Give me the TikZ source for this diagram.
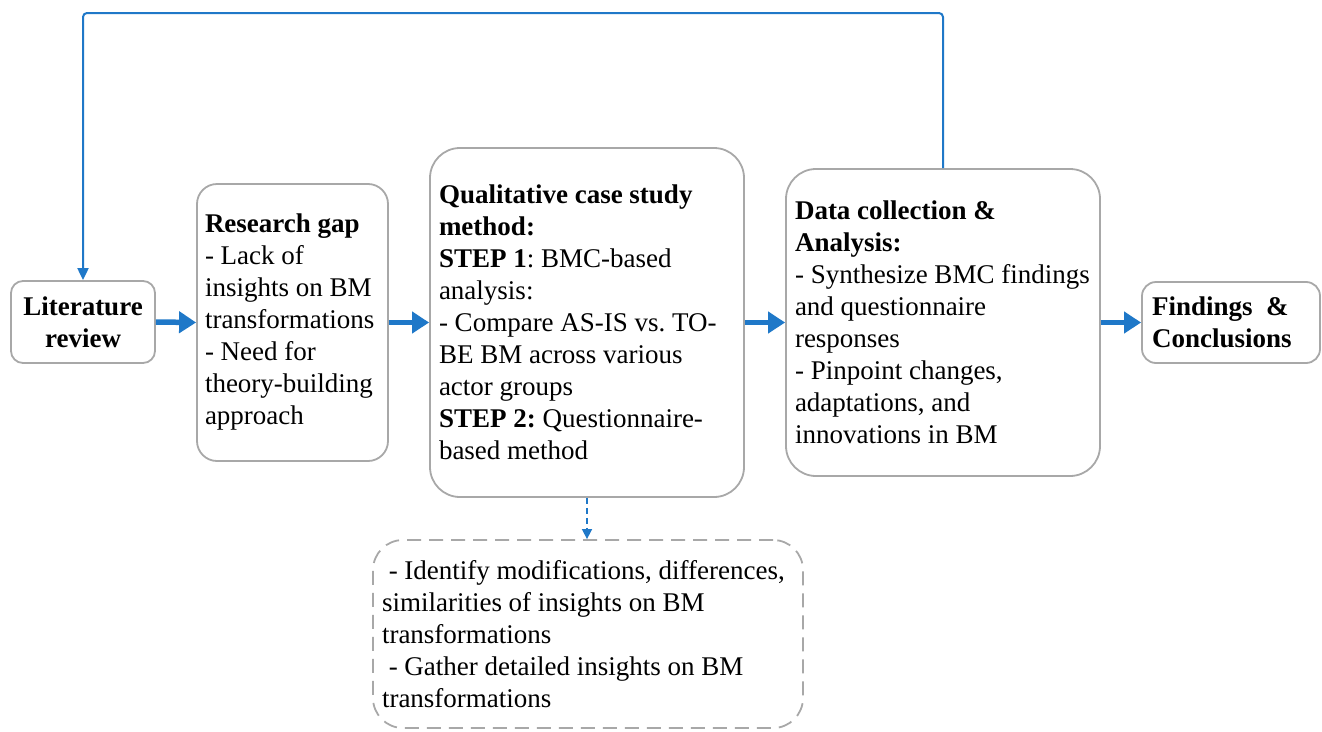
\documentclass[tikz,border=0pt]{standalone}
\usepackage{fontspec}
\setmainfont{Liberation Serif}
\usetikzlibrary{arrows.meta}
\definecolor{flowblue}{HTML}{1F78C8}
\definecolor{boxgray}{HTML}{A8A8A8}
\hyphenpenalty=10000
\frenchspacing
\begin{document}
\begin{tikzpicture}[x=1pt,y=-1pt,
  box/.style={draw=boxgray, line width=1.8pt, rounded corners=#1,
    font=\fontsize{27}{32}\selectfont, inner ysep=0pt},
  mainarrow/.style={draw=flowblue, line width=5.5pt,
    -{Triangle[length=17pt,width=21pt]}},
  feedback/.style={draw=flowblue, line width=2pt, rounded corners=4pt,
    -{Triangle[length=12pt,width=11pt]}},
  dasharrow/.style={draw=flowblue, line width=1.6pt, dash pattern=on 6pt off 4pt,
    -{Triangle[length=10pt,width=10pt]}}
]
\useasboundingbox (0,0) rectangle (1322,731);

\node[box=12, minimum width=144, minimum height=82, inner xsep=0pt, align=center]
  (lit) at (83,322) {\textbf{Literature}\\\textbf{review}};

\node[box=20, inner xsep=8pt, text width=175pt, minimum height=277, align=flush left]
  (gap) at (292.5,322.5)
  {\textbf{Research gap}\\- Lack of\\insights on BM\\transformations\\- Need for\\theory-building\\approach};

\node[box=30, inner xsep=9pt, text width=296pt, minimum height=349, align=flush left]
  (qual) at (587,322.5)
  {\textbf{Qualitative case study}\\\textbf{method:}\\\textbf{STEP 1}: BMC-based\\analysis:\\- Compare AS-IS vs. TO-\\BE BM across various\\actor groups\\\textbf{STEP 2:} Questionnaire-\\based method};

\node[box=30, inner xsep=9pt, text width=296pt, minimum height=307, align=flush left]
  (data) at (943,322.5)
  {\textbf{Data collection \&}\\\textbf{Analysis:}\\- Synthesize BMC findings\\and questionnaire\\responses\\- Pinpoint changes,\\adaptations, and\\innovations in BM};

\node[box=14, inner xsep=10pt, text width=158pt, minimum height=81, align=flush left]
  (find) at (1231,322.5)
  {\textbf{Findings\ \ \&}\\\textbf{Conclusions}};

\node[box=30, dash pattern=on 14pt off 8pt, inner xsep=9pt, text width=412pt,
  minimum height=188, align=flush left]
  (res) at (588,634)
  {\ - Identify modifications, differences,\\similarities of insights on BM\\transformations\\\ - Gather detailed insights on BM\\transformations};

\draw[mainarrow] (lit.east) -- (gap.west);
\draw[mainarrow] (gap.east) -- (qual.west);
\draw[mainarrow] (qual.east) -- (data.west);
\draw[mainarrow] (data.east) -- (find.west);

\coordinate (top) at (0,13);
\draw[feedback] (data.north) -- (data.north |- top) -| (lit.north);

\draw[dasharrow] (qual.south) -- (qual.south |- res.north);
\end{tikzpicture}
\end{document}
